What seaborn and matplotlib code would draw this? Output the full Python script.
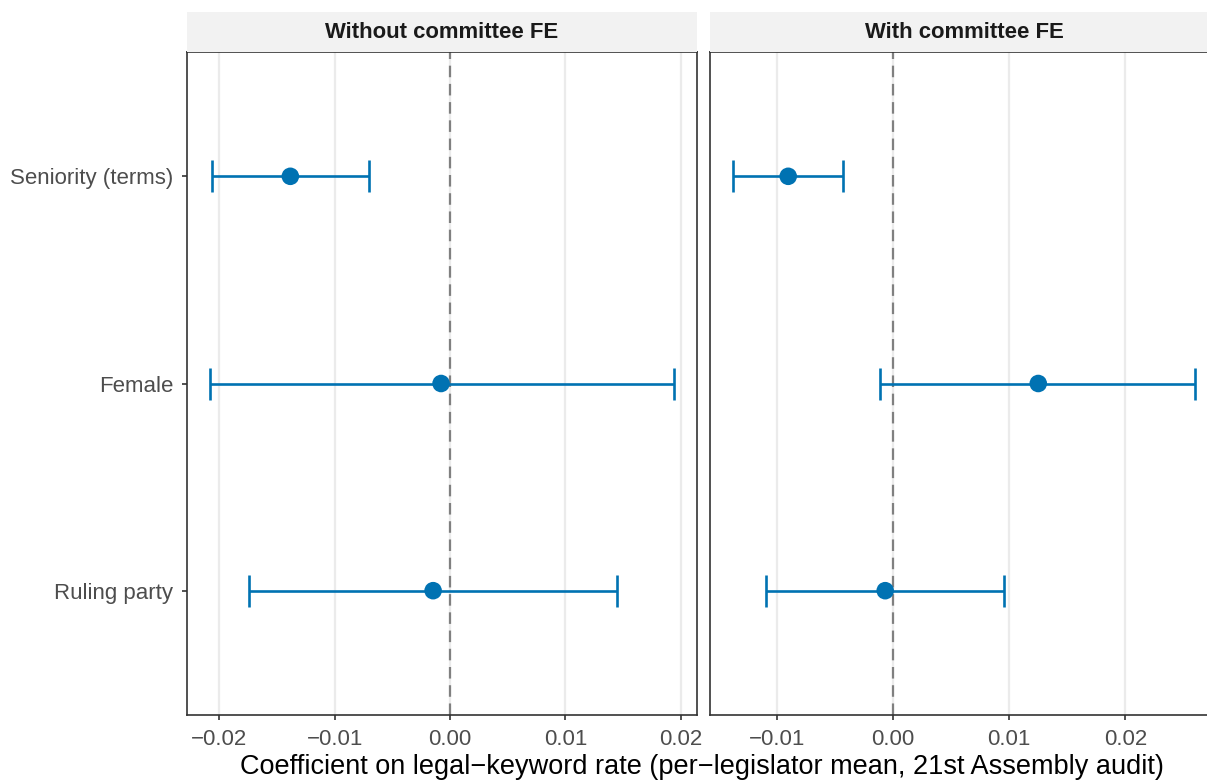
import numpy as np
import pandas as pd
import matplotlib
matplotlib.use("Agg")
import matplotlib.pyplot as plt
import seaborn as sns
from matplotlib.ticker import FixedLocator, FuncFormatter

sns.set_style("white")
plt.rcParams["font.family"] = ["Liberation Sans", "DejaVu Sans"]

# ---- data ----
terms = ["Seniority (terms)", "Female", "Ruling party"]
panels = ["Without committee FE", "With committee FE"]
est_nofe = [-0.01385, -0.00078, -0.00147]
lo_nofe = [-0.0206, -0.0208, -0.0174]
hi_nofe = [-0.0070, 0.0194, 0.01446]
est_fe = [-0.00905, 0.0125, -0.00069]
lo_fe = [-0.0138, -0.0011, -0.01095]
hi_fe = [-0.0043, 0.0260, 0.00957]
xticks = [-0.02, -0.01, 0.00, 0.01, 0.02]
xlabel = "Coefficient on legal\u2212keyword rate (per\u2212legislator mean, 21st Assembly audit)"

df = pd.DataFrame({
    "panel": np.repeat(panels, len(terms)),
    "term": terms * 2,
    "est": est_nofe + est_fe,
    "lo": lo_nofe + lo_fe,
    "hi": hi_nofe + hi_fe,
})
df["ypos"] = df["term"].map({t: i for i, t in enumerate(terms)})

W, H = 1207, 780
fig = plt.figure(figsize=(W / 100, H / 100), dpi=100)
fig.patch.set_facecolor("white")

blue = "#0072B2"
boxes = [(187, 697), (710, 1218)]
top, bot = 52, 715
strip_top = 12

def fmt(v, pos):
    s = f"{abs(v):.2f}"
    return ("\u2212" + s) if v < -1e-12 else s

for k, (pname, (x0, x1)) in enumerate(zip(panels, boxes)):
    ax = fig.add_axes([x0 / W, 1 - bot / H, (x1 - x0) / W, (bot - top) / H])
    sub = df[df["panel"] == pname]
    lo_all, hi_all = sub["lo"].min(), sub["hi"].max()
    pad = 0.05 * (hi_all - lo_all)
    ax.set_xlim(min(lo_all, 0) - pad, hi_all + pad)
    ax.set_ylim(len(terms) - 1 + 0.6, -0.6)
    ax.xaxis.set_major_locator(FixedLocator(xticks))
    ax.xaxis.set_major_formatter(FuncFormatter(fmt))
    ax.grid(axis="x", color="#EBEBEB", linewidth=1.6, zorder=0)
    ax.grid(axis="y", visible=False)
    ax.axvline(0, color="#808080", linestyle=(0, (5.2, 3)), linewidth=1.6, zorder=1)
    ax.errorbar(sub["est"], sub["ypos"],
                xerr=[sub["est"] - sub["lo"], sub["hi"] - sub["est"]],
                fmt="none", ecolor=blue, elinewidth=1.9, capsize=11.5,
                capthick=1.9, zorder=2)
    sns.scatterplot(data=sub, x="est", y="ypos", ax=ax, color=blue, s=160,
                    edgecolor="none", zorder=3, legend=False)
    ax.set_xlabel("")
    ax.set_ylabel("")
    ax.set_yticks(range(len(terms)))
    if k == 0:
        ax.set_yticklabels(terms)
    else:
        ax.set_yticklabels([])
        ax.tick_params(axis="y", length=0)
    ax.tick_params(axis="both", labelsize=16.0, labelcolor="#4D4D4D",
                   color="#333333", length=3.8, width=1.2, pad=6.0,
                   left=(k == 0), bottom=True)
    for sp in ax.spines.values():
        sp.set_color("#333333")
        sp.set_linewidth(1.2)
    # strip
    sax = fig.add_axes([x0 / W, 1 - top / H, (x1 - x0) / W, (top - strip_top) / H])
    sax.set_facecolor("#F2F2F2")
    sax.set_xticks([])
    sax.set_yticks([])
    for sp in sax.spines.values():
        sp.set_visible(False)
    sax.text(0.5, 0.5, pname, ha="center", va="center", fontsize=15.9,
             fontweight="bold", color="#1A1A1A", transform=sax.transAxes)

fig.text(702 / W, 1 - 767 / H, xlabel, ha="center", va="center",
         fontsize=19.5, color="black")

fig.savefig("out.png", dpi=100)
